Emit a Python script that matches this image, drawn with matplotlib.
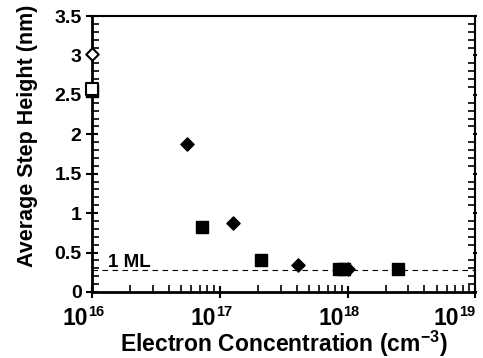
import matplotlib
matplotlib.use('Agg')
import matplotlib.pyplot as plt
from matplotlib.ticker import MultipleLocator, LogLocator, FixedLocator

plt.rcParams['font.family'] = ['Liberation Sans', 'DejaVu Sans']
plt.rcParams['font.weight'] = 'bold'
plt.rcParams['mathtext.fontset'] = 'custom'
plt.rcParams['mathtext.rm'] = 'Liberation Sans:bold'
plt.rcParams['mathtext.bf'] = 'Liberation Sans:bold'

# filled diamonds
dia_x = [5.5e16, 1.26e17, 4.1e17, 1.0e18]
dia_y = [1.88, 0.87, 0.34, 0.29]
# filled squares
sq_x = [7.2e16, 2.1e17, 8.6e17, 9.4e17, 2.5e18]
sq_y = [0.83, 0.41, 0.29, 0.29, 0.29]
# open markers at the axis
open_dia_x = [1e16]
open_dia_y = [3.02]
open_sq_x = [1e16]
open_sq_y = [2.58]
ml_level = 0.28
decades = [16, 17, 18, 19]
y_ticks = [0, 0.5, 1, 1.5, 2, 2.5, 3, 3.5]
y_labels = ['0', '0.5', '1', '1.5', '2', '2.5', '3', '3.5']

fig = plt.figure(figsize=(4.83, 3.58), dpi=100)
ax = fig.add_axes([0.1905, 0.1844, 0.7935, 0.7709])

ax.axhline(ml_level, color='black', lw=0.8, ls=(0, (5, 4)))
ax.text(1.33e16, 0.32, '1 ML', fontsize=13.5, fontweight='bold')

ax.scatter(sq_x, sq_y, marker='s', s=70, color='black', zorder=3, clip_on=False)
ax.scatter(dia_x, dia_y, marker='D', s=45, color='black', zorder=3, clip_on=False)
ax.scatter(open_sq_x, [2.55], marker='s', s=70, color='black', zorder=3, clip_on=False)
ax.scatter(open_sq_x, open_sq_y, marker='s', s=70, facecolor='white', edgecolor='black',
           lw=1.5, zorder=4, clip_on=False)
ax.scatter(open_dia_x, open_dia_y, marker='D', s=40, facecolor='white', edgecolor='black',
           lw=1.5, zorder=4, clip_on=False)

ax.set_xscale('log')
ax.set_xlim(1e16, 1e19)
ax.set_ylim(0, 3.5)
ax.xaxis.set_major_locator(FixedLocator([10.0 ** d for d in decades]))
ax.xaxis.set_minor_locator(LogLocator(base=10, subs=range(2, 10)))
ax.set_xticklabels([])
ax.yaxis.set_minor_locator(MultipleLocator(0.1))
ax.set_yticks(y_ticks)
ax.set_yticklabels(y_labels)

# x tick labels: "10" with a small exponent, as in the original
for d in decades:
    dx = -16 if d == decades[-1] else -4
    ax.annotate('10', xy=(10.0 ** d, 0), xycoords=('data', 'axes fraction'),
                xytext=(dx, -15), textcoords='offset pixels', ha='right', va='top',
                fontsize=16.5, fontweight='bold', annotation_clip=False)
    ax.annotate(str(d), xy=(10.0 ** d, 0), xycoords=('data', 'axes fraction'),
                xytext=(dx, -13), textcoords='offset pixels', ha='left', va='top',
                fontsize=10.5, fontweight='bold', annotation_clip=False)

ax.spines['left'].set_linewidth(2)
ax.spines['bottom'].set_linewidth(2)
ax.spines['top'].set_linewidth(1.5)
ax.spines['right'].set_linewidth(1.5)

ax.tick_params(axis='both', which='major', direction='inout', length=9, width=1.5,
               labelsize=14, pad=3)
ax.tick_params(axis='both', which='minor', direction='in', length=5, width=1.2)
ax.tick_params(axis='y', which='both', right=True)
ax.tick_params(axis='y', which='major', labelright=False)

# right-side ticks are short
for t in ax.yaxis.get_major_ticks():
    t.tick2line.set_markersize(3)

ax.set_xlabel(r'Electron Concentration (cm$^{\mathbf{-3}}$)', fontsize=16.5, fontweight='bold')
ax.xaxis.label.set_va('baseline')
ax.xaxis.set_label_coords(0.5, -0.217)
ax.set_ylabel('Average Step Height (nm)', fontsize=15.5, fontweight='bold')
ax.yaxis.set_label_coords(-0.14, 0.565)

fig.savefig('out.png', dpi=100)
